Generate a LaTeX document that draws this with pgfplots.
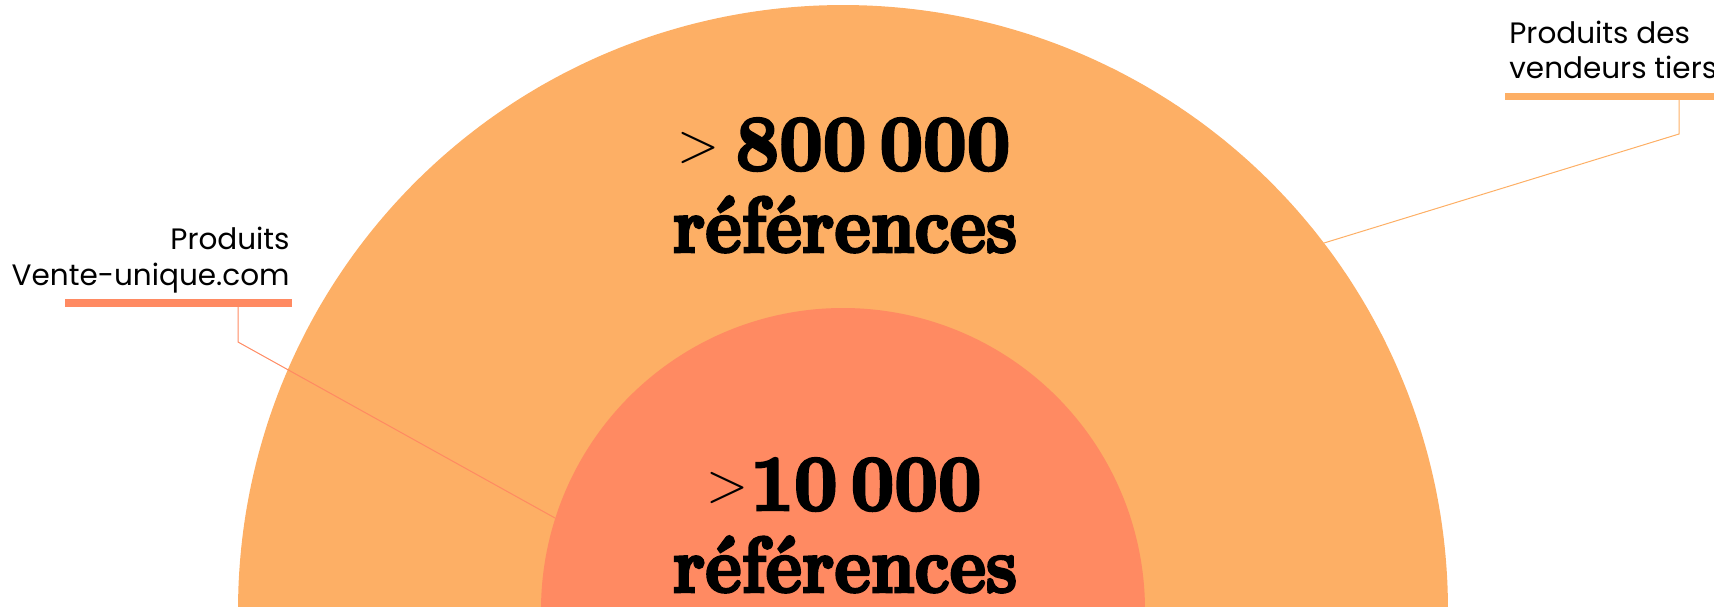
\documentclass[border=0pt]{standalone}
\usepackage{pgfplots}
\pgfplotsset{compat=1.18}
\usepackage{fontspec}
\setmainfont{Poppins}
\newfontfamily\fat[FakeStretch=0.87, FakeBold=3.5]{lmroman10-bold.otf}
\newfontfamily\fatn[FakeStretch=0.96, FakeBold=3.5]{lmroman10-bold.otf}
\newfontfamily\thin{lmroman10-regular.otf}
\definecolor{outerc}{RGB}{253,175,101}
\definecolor{innerc}{RGB}{255,138,98}
% radii and centre of the two half discs (picture pixels)
\def\Cx{843}\def\Cy{610}
\def\Rout{605}\def\Rin{302}
\newcommand{\bignum}[1]{{\fatn\fontsize{39.5}{40}\selectfont #1}}
\newcommand{\bigword}[1]{{\fat\fontsize{39.5}{40}\selectfont #1}}
\newcommand{\gtsym}{{\thin\fontsize{27}{27}\selectfont\raisebox{4.5pt}{>}}}
\begin{document}
\begin{tikzpicture}
\useasboundingbox (0,0) rectangle (857pt,303pt);
\clip (0,0) rectangle (857pt,303pt);
\begin{axis}[
  at={(0,0)}, anchor=south west,
  scale only axis, width=857pt, height=303pt,
  xmin=0, xmax=1714, ymin=0, ymax=606, y dir=reverse,
  hide axis, clip=false,
]
\addplot[fill=outerc, draw=none, domain=0:180, samples=241]
  ({\Cx+\Rout*cos(x)}, {\Cy-\Rout*sin(x)}) -- cycle;
\addplot[fill=innerc, draw=none, domain=0:180, samples=181]
  ({\Cx+\Rin*cos(x)}, {\Cy-\Rin*sin(x)}) -- cycle;
% leader lines
\draw[innerc, line width=0.5pt] (axis cs:238,307) -- (axis cs:238,342) -- (axis cs:555,518);
\draw[outerc, line width=0.5pt] (axis cs:1679,100) -- (axis cs:1679,134) -- (axis cs:1324,243);
\fill[innerc] (axis cs:65,299) rectangle (axis cs:292,307);
\fill[outerc] (axis cs:1505,93) rectangle (axis cs:1714,100);
% labels
\node[anchor=base east, inner sep=0, font=\fontsize{14.75}{15}\selectfont] at (axis cs:290,249) {Produits};
\node[anchor=base east, inner sep=0, font=\fontsize{14.75}{15}\selectfont] at (axis cs:290,285) {Vente-unique.com};
\node[anchor=base west, inner sep=0, font=\fontsize{14.75}{15}\selectfont] at (axis cs:1509,43) {Produits des};
\node[anchor=base west, inner sep=0, font=\fontsize{14.75}{15}\selectfont] at (axis cs:1509,78) {vendeurs tiers};
% big numbers
\node[anchor=base, inner sep=0] at (axis cs:844,170) {\gtsym\hspace{8pt}\bignum{800\,000}};
\node[anchor=base, inner sep=0] at (axis cs:845,252) {\bigword{références}};
\node[anchor=base, inner sep=0] at (axis cs:844,510) {\gtsym\hspace{1pt}\bignum{10\,000}};
\node[anchor=base, inner sep=0] at (axis cs:845,592) {\bigword{références}};
\end{axis}
\end{tikzpicture}
\end{document}
